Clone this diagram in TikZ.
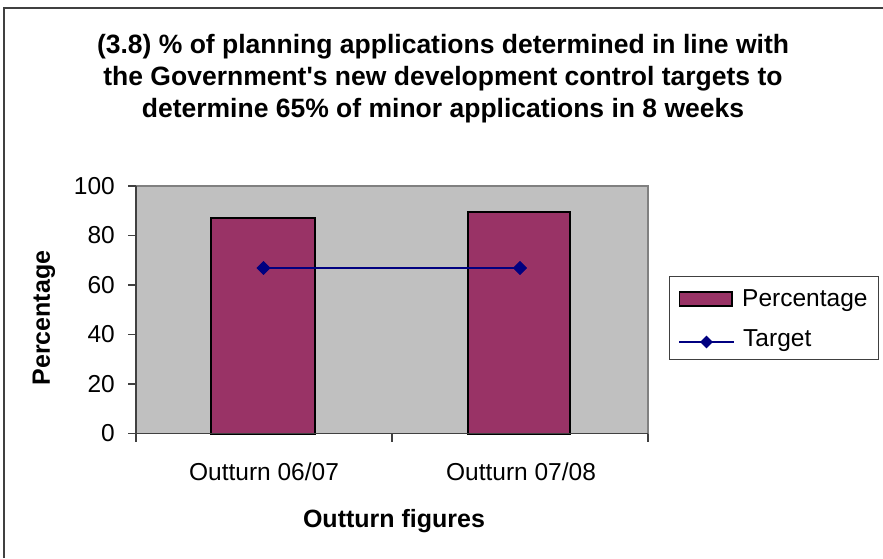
\documentclass[tikz,border=0pt]{standalone}
\usepackage{fontspec}
\setmainfont{Liberation Sans}[Ligatures=TeXOff]
\usetikzlibrary{shapes.geometric}
\definecolor{plum}{HTML}{993366}
\definecolor{navyb}{HTML}{000080}
\definecolor{plotgray}{HTML}{C0C0C0}
\definecolor{axisgray}{HTML}{404040}
\definecolor{bordergray}{HTML}{808080}
\begin{document}
\begin{tikzpicture}[x=1pt,y=-1pt,
 ticklab/.style={anchor=east,inner sep=0,font=\fontsize{24.5}{29}\selectfont},
 catlab/.style={anchor=base,inner sep=0,font=\fontsize{24.5}{29}\selectfont},
 axtitle/.style={inner sep=0,font=\bfseries\fontsize{25}{30}\selectfont},
 bar/.style={fill=plum,draw=black,line width=2pt},
 mk/.style={diamond,fill=navyb,inner sep=0,minimum width=14pt,minimum height=14pt},
 tline/.style={draw=navyb,line width=1.5pt},
 tickline/.style={draw=axisgray,line width=1.5pt}]
\useasboundingbox (0,0) rectangle (883,558);
% outer chart border (left and top visible)
\draw[axisgray,line width=2pt] (3.5,558) -- (3.5,7.5) -- (883,7.5);
% title
\node[inner sep=0,align=center,font=\bfseries\fontsize{26.5}{32}\selectfont] (title) at (443,79)
 {(3.8) \% of planning applications determined in line with\\the Government's new development control targets to\\determine 65\% of minor applications in 8 weeks};
% plot area
\fill[plotgray] (136,186) rectangle (648,433.5);
\draw[bordergray,line width=1.5pt] (136,186) -- (648,186) -- (648,433.5);
% bars
\draw[bar] (211,217.5) rectangle (315,433.5);
\draw[bar] (468,211.5) rectangle (570,433.5);
% axes
\draw[tickline] (136,186) -- (136,433.5) -- (648,433.5);
\foreach \v in {0,20,40,60,80,100}{
  \pgfmathsetmacro{\yy}{433.5-\v*2.475}
  \draw[tickline] (128,\yy) -- (136,\yy);
  \node[ticklab] (t\v) at (115,\yy) {\v};
}
\foreach \xx in {136,392,648}{
  \draw[tickline] (\xx,433.5) -- (\xx,442);
}
% target line
\node[mk] (d1) at (263.5,268) {};
\node[mk] (d2) at (520,268) {};
\draw[tline] (d1.center) -- (d2.center);
\node[mk] at (d1) {};
\node[mk] at (d2) {};
% category labels
\node[catlab] (c1) at (264,480) {Outturn 06/07};
\node[catlab] (c2) at (521,480) {Outturn 07/08};
\node[axtitle,anchor=base] (xt) at (394,527) {Outturn figures};
\node[axtitle,rotate=90] (yt) at (44,318) {Percentage};
% legend
\draw[axisgray,line width=1pt] (669,276) rectangle (878,359);
\draw[fill=plum,draw=black,line width=1.5pt] (679.5,292) rectangle (732,306);
\node[catlab,anchor=base west] (l1) at (742,306) {Percentage};
\coordinate (la) at (679,342);
\coordinate (lb) at (734,342);
\draw[tline] (la) -- (lb);
\node[mk,minimum width=13pt,minimum height=13pt] (ld) at (706.5,342) {};
\node[catlab,anchor=base west] (l2) at (743,346) {Target};
\end{tikzpicture}
\end{document}
